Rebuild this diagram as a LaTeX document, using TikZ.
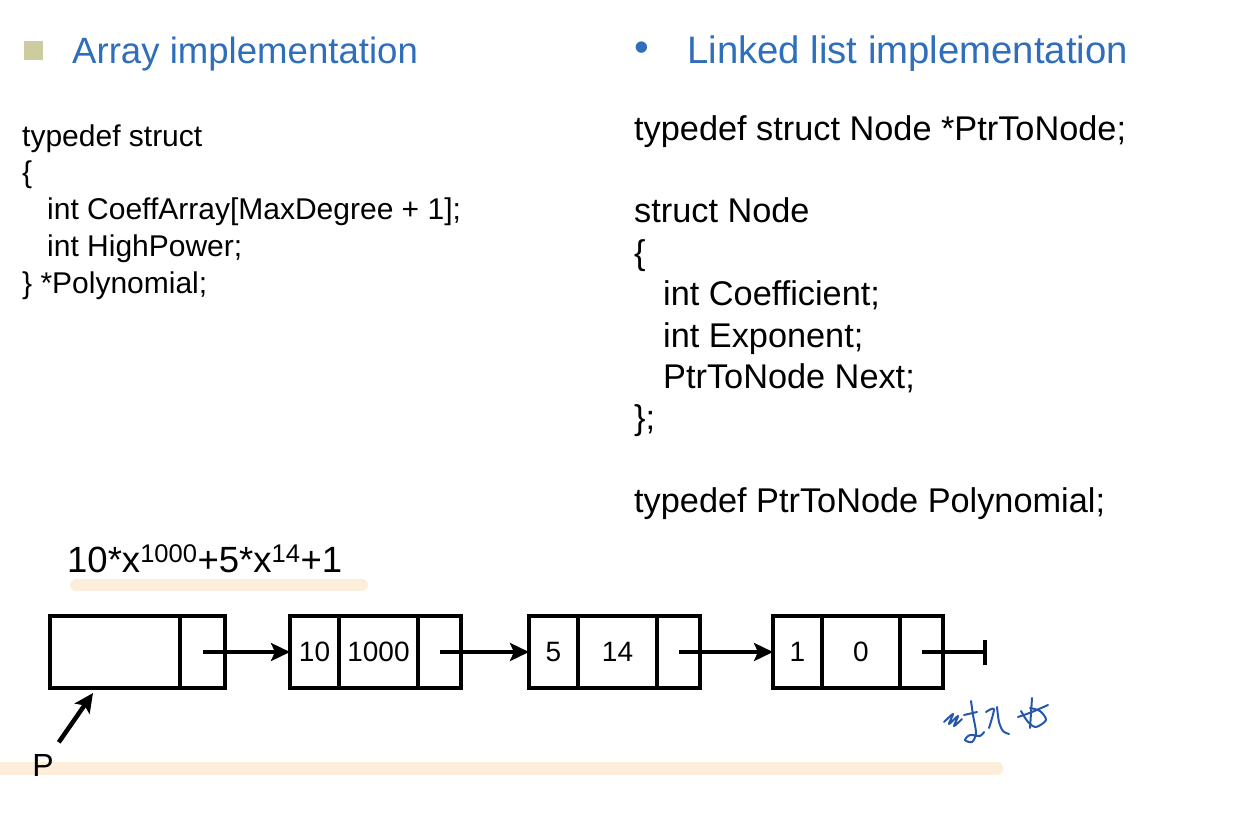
\documentclass[tikz,border=0pt]{standalone}
\usepackage{fontspec}
\setmainfont{Liberation Sans}
\usetikzlibrary{positioning,arrows.meta}
\definecolor{headblue}{RGB}{47,110,186}
\definecolor{bulletkhaki}{RGB}{204,204,158}
\definecolor{marker}{RGB}{253,238,219}
\definecolor{inkblue}{RGB}{38,88,170}
\tikzset{
  heading/.style={anchor=base west, inner sep=0, text=headblue,
    font=\fontsize{37}{44}\selectfont},
  code/.style={anchor=base west, inner sep=0, align=left},
  cell/.style={
    draw, line width=3.5pt,
    minimum height=72,
    inner sep=0, outer sep=0,
    font=\fontsize{28}{32}\selectfont},
  link/.style={draw, line width=4.5pt, -{Stealth[length=19pt,width=18pt,inset=4pt]}},
  highlight/.style={draw=marker, line width=12pt, line cap=round},
  scribble/.style={draw=inkblue, line width=2pt, line cap=round, line join=round},
}
\begin{document}
\begin{tikzpicture}[x=1pt,y=-1pt]
  \useasboundingbox (0,0) rectangle (1252,814);

  % headings
  \node[fill=bulletkhaki, minimum size=19, inner sep=0] (square) at (33.5,50.5) {};
  \node[heading, font=\fontsize{36.6}{44}\selectfont] (arrayhead) at (72,63) {Array implementation};
  \node[heading, anchor=center, font=\fontsize{42}{44}\selectfont] (dot) at (642,52) {•};
  \node[heading, font=\fontsize{38.3}{44}\selectfont] (listhead) at (687,63) {Linked list implementation};

  % code (base = last line)
  \node[code, font=\fontsize{30}{36.8}\selectfont] (arraycode) at (22,293.2)
    {typedef struct\\ \{\\ \hspace*{25pt}int CoeffArray[MaxDegree + 1];\\
     \hspace*{25pt}int HighPower;\\ \} *Polynomial;};
  \node[code, font=\fontsize{34.3}{41.4}\selectfont] (nodeptr) at (634,140)
    {typedef struct Node *PtrToNode;};
  \node[code, font=\fontsize{34.3}{41.4}\selectfont] (nodestruct) at (634,429.8)
    {struct Node\\ \{\\ \hspace*{29pt}int Coefficient;\\ \hspace*{29pt}int Exponent;\\
     \hspace*{29pt}PtrToNode Next;\\ \};};
  \node[code, font=\fontsize{34.3}{41.4}\selectfont] (polytype) at (634,512.6)
    {typedef PtrToNode Polynomial;};

  % marker strokes
  \draw[highlight] (76,585) -- (362,585);
  \draw[highlight, line width=13pt] (0,768) -- (997,768);

  \node[anchor=base west, inner sep=0, font=\fontsize{36.5}{42}\selectfont] (poly) at (67,572)
    {10*x\textsuperscript{1000}+5*x\textsuperscript{14}+1};

  % list
  \node[cell, anchor=west, minimum width=130] (headdata) at (50,652) {};
  \node[cell, right=0pt of headdata, minimum width=45] (headnext) {};

  \node[cell, right=65pt of headnext, minimum width=49] (coef1) {10};
  \node[cell, right=0pt of coef1, minimum width=79] (exp1) {1000};
  \node[cell, right=0pt of exp1, minimum width=43] (next1) {};

  \node[cell, right=68pt of next1, minimum width=49] (coef2) {5};
  \node[cell, right=0pt of coef2, minimum width=79] (exp2) {14};
  \node[cell, right=0pt of exp2, minimum width=43] (next2) {};

  \node[cell, right=73pt of next2, minimum width=49] (coef3) {1};
  \node[cell, right=0pt of coef3, minimum width=78] (exp3) {0};
  \node[cell, right=0pt of exp3, minimum width=43] (next3) {};
  \coordinate[right=44pt of next3] (nil);

  \draw[link] (headnext.center) -- (coef1.west);
  \draw[link] (next1.center) -- (coef2.west);
  \draw[link] (next2.center) -- (coef3.west);
  \draw[line width=4.5pt, -{Bar[width=25pt]}] (next3.center) -- (nil);

  \node[inner sep=0, font=\fontsize{32}{38}\selectfont] (p) at (43,765) {P};
  \draw[link, shorten <=14pt] (p) -- ([xshift=-22pt,yshift=-5pt]headdata.south);

  % handwriting
  \draw[scribble] plot[smooth] coordinates {(944,722) (953,714) (949,724) (958,716) (954,726) (962,719)};
  \draw[scribble] (964,715) -- (977,712);
  \draw[scribble] plot[smooth] coordinates {(971,701) (973,715) (976,733) (972,742) (965,740) (970,735) (980,736) (984,732)};
  \draw[scribble] plot[smooth] coordinates {(986,712) (994,709) (989,728)};
  \draw[scribble] plot[smooth] coordinates {(997,707) (999,722) (1003,731) (1009,734)};
  \draw[scribble] plot[smooth] coordinates {(1018,717) (1032,712) (1048,705)};
  \draw[scribble] (1032,698) -- (1030,728);
  \draw[scribble] plot[smooth] coordinates {(1021,711) (1028,722) (1036,727) (1046,720) (1040,711) (1030,708)};
\end{tikzpicture}
\end{document}
